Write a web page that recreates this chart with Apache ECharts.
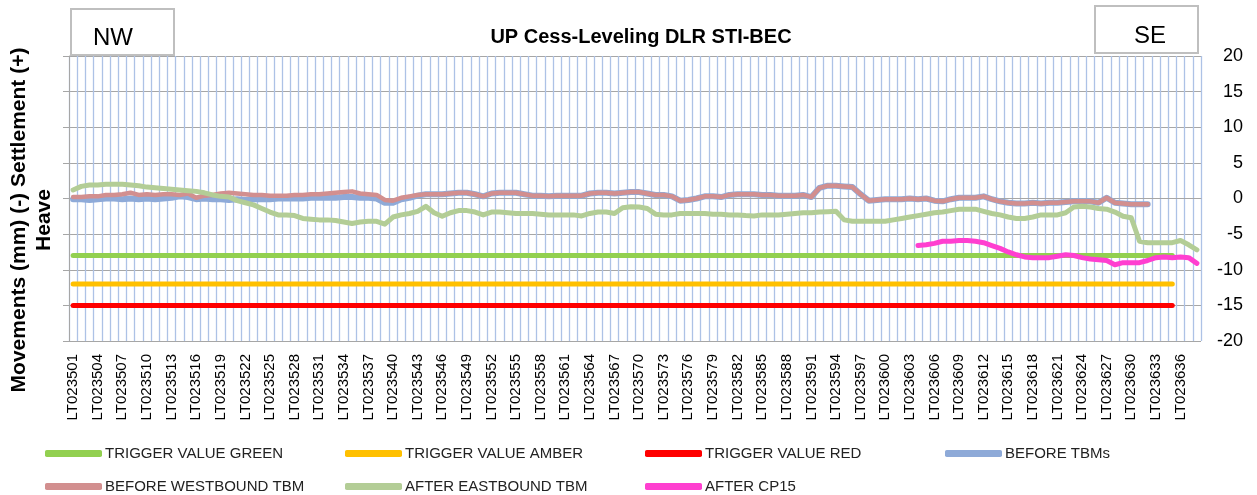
<!DOCTYPE html>
<html>
<head>
<meta charset="utf-8">
<script src="https://cdn.jsdelivr.net/npm/echarts@6/dist/echarts.min.js"></script>
<style>
  html, body { margin: 0; padding: 0; background: #fff; }
  #chart { width: 1257px; height: 495px; }
</style>
</head>
<body>
<div id="chart"></div>
<script>
// Messpunkte LT023501 .. LT023638
var categories = [];
for (var n = 23501; n <= 23638; n++) categories.push('LT0' + n);

// Grenzwerte (mm), gezeichnet bis LT023635
var triggerGreen = -8;
var triggerAmber = -12;
var triggerRed = -15;
var triggerCount = 135;

var yTicks = [-20, -15, -10, -5, 0, 5, 10, 15, 20];

var beforeTBMs = [
  -0.1, -0.1, -0.2, -0.1, 0.0, 0.0, -0.1, 0.0, -0.1, 0.0,
  -0.1, 0.0, 0.1, 0.3, 0.2, -0.1, 0.0, -0.1, -0.1, -0.2,
  -0.1, -0.2, -0.1, -0.1, -0.1, 0.0, 0.0, 0.0, 0.0, 0.1,
  0.1, 0.1, 0.1, 0.2, 0.2, 0.1, 0.1, 0.0, -0.6, -0.6,
  -0.1, 0.1, 0.4, 0.6, 0.6, 0.6, 0.7, 0.8, 0.8, 0.6,
  0.3, 0.7, 0.8, 0.8, 0.8, 0.6, 0.4, 0.4, 0.3, 0.4,
  0.4, 0.4, 0.4, 0.7, 0.8, 0.8, 0.7, 0.8, 0.9, 0.9,
  0.7, 0.5, 0.5, 0.3, -0.3, -0.2, 0.0, 0.3, 0.3, 0.2,
  0.5, 0.6, 0.6, 0.6, 0.5, 0.5, 0.4, 0.4, 0.4, 0.5,
  0.2, 1.5, 1.8, 1.8, 1.7, 1.6, 0.6, -0.3, -0.2, -0.1,
  -0.1, -0.1, 0.0, -0.1, 0.0, -0.3, -0.4, -0.1, 0.1, 0.1,
  0.1, 0.3, -0.1, -0.4, -0.6, -0.7, -0.7, -0.6, -0.7, -0.6,
  -0.6, -0.5, -0.4, -0.4, -0.4, -0.6, 0.1, -0.6, -0.7, -0.8,
  -0.8, -0.8
];

var beforeWestbound = [
  0.2, 0.2, 0.3, 0.3, 0.5, 0.5, 0.6, 0.8, 0.5, 0.6,
  0.5, 0.6, 0.6, 0.5, 0.7, 0.1, 0.4, 0.5, 0.7, 0.8,
  0.7, 0.6, 0.5, 0.5, 0.4, 0.4, 0.4, 0.5, 0.5, 0.6,
  0.6, 0.7, 0.8, 0.9, 1.0, 0.7, 0.6, 0.5, -0.2, -0.3,
  0.1, 0.3, 0.5, 0.6, 0.6, 0.6, 0.7, 0.8, 0.8, 0.6,
  0.3, 0.7, 0.8, 0.8, 0.8, 0.6, 0.4, 0.4, 0.3, 0.4,
  0.4, 0.4, 0.4, 0.7, 0.8, 0.8, 0.7, 0.8, 0.9, 0.9,
  0.7, 0.5, 0.5, 0.3, -0.3, -0.2, 0.0, 0.3, 0.3, 0.2,
  0.5, 0.6, 0.6, 0.6, 0.5, 0.5, 0.4, 0.4, 0.4, 0.5,
  0.2, 1.5, 1.8, 1.8, 1.7, 1.6, 0.6, -0.3, -0.2, -0.1,
  -0.1, -0.1, 0.0, -0.1, 0.0, -0.3, -0.4, -0.1, 0.1, 0.1,
  0.1, 0.3, -0.1, -0.4, -0.6, -0.7, -0.7, -0.6, -0.7, -0.6,
  -0.6, -0.5, -0.4, -0.4, -0.4, -0.6, 0.1, -0.6, -0.7, -0.8,
  -0.8, -0.8
];

var afterEastbound = [
  1.2, 1.7, 1.9, 1.9, 2.0, 2.0, 2.0, 1.9, 1.8, 1.6,
  1.5, 1.4, 1.3, 1.2, 1.1, 1.0, 0.8, 0.5, 0.3, 0.2,
  -0.3, -0.6, -0.9, -1.4, -1.9, -2.3, -2.3, -2.4, -2.8, -2.9,
  -3.0, -3.0, -3.1, -3.3, -3.5, -3.3, -3.2, -3.2, -3.6, -2.6,
  -2.3, -2.1, -1.8, -1.1, -2.0, -2.5, -2.0, -1.7, -1.7, -1.9,
  -2.3, -1.9, -1.9, -2.0, -2.1, -2.1, -2.1, -2.2, -2.3, -2.3,
  -2.3, -2.3, -2.45, -2.1, -1.9, -1.9, -2.1, -1.3, -1.15, -1.2,
  -1.4, -2.2, -2.3, -2.3, -2.1, -2.1, -2.1, -2.1, -2.2, -2.2,
  -2.3, -2.3, -2.4, -2.45, -2.3, -2.3, -2.3, -2.2, -2.1, -2.0,
  -2.0, -1.9, -1.85, -1.8, -3.0, -3.2, -3.2, -3.2, -3.2, -3.2,
  -3.0, -2.8, -2.6, -2.4, -2.2, -2.0, -1.9, -1.7, -1.5, -1.5,
  -1.5, -1.8, -2.1, -2.3, -2.6, -2.8, -2.8, -2.6, -2.3, -2.3,
  -2.3, -2.0, -1.2, -1.1, -1.2, -1.4, -1.5, -1.9, -2.5, -2.7,
  -6.0, -6.2, -6.2, -6.2, -6.2, -5.9, -6.5, -7.2
];

// erst ab LT023604 gemessen
var afterCP15 = [
  null, null, null, null, null, null, null, null, null, null,
  null, null, null, null, null, null, null, null, null, null,
  null, null, null, null, null, null, null, null, null, null,
  null, null, null, null, null, null, null, null, null, null,
  null, null, null, null, null, null, null, null, null, null,
  null, null, null, null, null, null, null, null, null, null,
  null, null, null, null, null, null, null, null, null, null,
  null, null, null, null, null, null, null, null, null, null,
  null, null, null, null, null, null, null, null, null, null,
  null, null, null, null, null, null, null, null, null, null,
  null, null, null, -6.6, -6.5, -6.3, -6.0, -6.0, -5.9, -5.9,
  -6.0, -6.2, -6.6, -7.0, -7.5, -7.9, -8.2, -8.3, -8.3, -8.3,
  -8.1, -7.9, -8.0, -8.3, -8.5, -8.6, -8.7, -9.3, -9.0, -9.0,
  -9.0, -8.7, -8.3, -8.2, -8.3, -8.2, -8.3, -9.1
];

function flatLine(v) {
  var arr = [];
  for (var i = 0; i < triggerCount; i++) arr.push(v);
  return arr;
}

var FONT = 'Liberation Sans';

function lineSeries(name, data, color, width, z) {
  return {
    name: name,
    type: 'line',
    data: data,
    symbol: 'none',
    connectNulls: false,
    z: z,
    lineStyle: { color: color, width: width, cap: 'round', join: 'round' },
    itemStyle: { color: color },
    emphasis: { disabled: true }
  };
}

function legendItem(name, left, top) {
  return {
    data: [name],
    left: left,
    top: top,
    icon: 'roundRect',
    itemWidth: 57,
    itemHeight: 7,
    itemGap: 0,
    selectedMode: false,
    textStyle: { fontFamily: FONT, fontSize: 15, color: '#222', padding: [0, 0, 0, -2] }
  };
}

var chart = echarts.init(document.getElementById('chart'), null, { renderer: 'canvas' });

chart.setOption({
  animation: false,
  backgroundColor: '#fff',
  title: {
    text: 'UP Cess-Leveling DLR STI-BEC',
    left: 636,
    top: 22,
    textAlign: 'center',
    textStyle: { fontFamily: FONT, fontSize: 20, fontWeight: 'bold', color: '#000' }
  },
  legend: [
    legendItem('TRIGGER VALUE GREEN', 40, 441),
    legendItem('TRIGGER VALUE AMBER', 340, 441),
    legendItem('TRIGGER VALUE RED', 640, 441),
    legendItem('BEFORE TBMs', 940, 441),
    legendItem('BEFORE WESTBOUND TBM', 40, 474),
    legendItem('AFTER EASTBOUND TBM', 340, 474),
    legendItem('AFTER CP15', 640, 474)
  ],
  grid: { left: 69, right: 56, top: 56, bottom: 154 },
  xAxis: {
    type: 'category',
    data: categories,
    boundaryGap: true,
    axisLine: { lineStyle: { color: '#a6a6a6', width: 1 } },
    axisTick: { interval: 0, length: 6, lineStyle: { color: '#a6a6a6' } },
    axisLabel: {
      interval: 2,
      rotate: 90,
      margin: 13,
      fontFamily: FONT,
      fontSize: 15,
      color: '#000'
    },
    splitLine: { show: true, interval: 0, lineStyle: { color: '#adc2e6', width: 1.3 } }
  },
  yAxis: [
    {
      type: 'value',
      position: 'left',
      min: yTicks[0],
      max: yTicks[yTicks.length - 1],
      interval: 5,
      axisLine: { show: true, lineStyle: { color: '#a6a6a6' } },
      axisTick: { show: true, length: 6, lineStyle: { color: '#a6a6a6' } },
      axisLabel: { show: false },
      splitLine: { show: true, lineStyle: { color: '#a6a6a6', width: 1 } }
    },
    {
      type: 'value',
      position: 'right',
      min: yTicks[0],
      max: yTicks[yTicks.length - 1],
      interval: 5,
      axisLine: { show: false },
      axisTick: { show: false },
      splitLine: { show: false },
      axisLabel: {
        align: 'right',
        margin: 42,
        fontFamily: FONT,
        fontSize: 18,
        color: '#000'
      }
    }
  ],
  series: [
    lineSeries('TRIGGER VALUE GREEN', flatLine(triggerGreen), '#92d050', 5, 2),
    lineSeries('TRIGGER VALUE AMBER', flatLine(triggerAmber), '#ffc000', 5, 2),
    lineSeries('TRIGGER VALUE RED', flatLine(triggerRed), '#ff0000', 5, 2),
    lineSeries('BEFORE TBMs', beforeTBMs, '#8eaad8', 6, 3),
    lineSeries('BEFORE WESTBOUND TBM', beforeWestbound, '#d28f8f', 4.5, 4),
    lineSeries('AFTER EASTBOUND TBM', afterEastbound, '#b3cd96', 5, 5),
    lineSeries('AFTER CP15', afterCP15, '#ff3fd0', 5, 6)
  ],
  graphic: [
    {
      type: 'text',
      x: 32,
      y: 220,
      rotation: Math.PI / 2,
      style: {
        text: 'Movements (mm) (-) Settlement (+)\nHeave',
        fontFamily: FONT,
        fontSize: 21,
        fontWeight: 'bold',
        lineHeight: 25,
        align: 'center',
        verticalAlign: 'middle',
        fill: '#000'
      }
    },
    {
      type: 'group',
      left: 70,
      top: 8,
      children: [
        { type: 'rect', shape: { x: 0, y: 0, width: 103, height: 46 }, style: { fill: '#fff', stroke: '#bfbfbf', lineWidth: 2 } },
        { type: 'text', x: 42, y: 29, style: { text: 'NW', fontFamily: FONT, fontSize: 24, fill: '#000', align: 'center', verticalAlign: 'middle' } }
      ]
    },
    {
      type: 'group',
      left: 1094,
      top: 5,
      children: [
        { type: 'rect', shape: { x: 0, y: 0, width: 103, height: 47 }, style: { fill: '#fff', stroke: '#bfbfbf', lineWidth: 2 } },
        { type: 'text', x: 55, y: 30, style: { text: 'SE', fontFamily: FONT, fontSize: 24, fill: '#000', align: 'center', verticalAlign: 'middle' } }
      ]
    }
  ]
});
</script>
</body>
</html>
